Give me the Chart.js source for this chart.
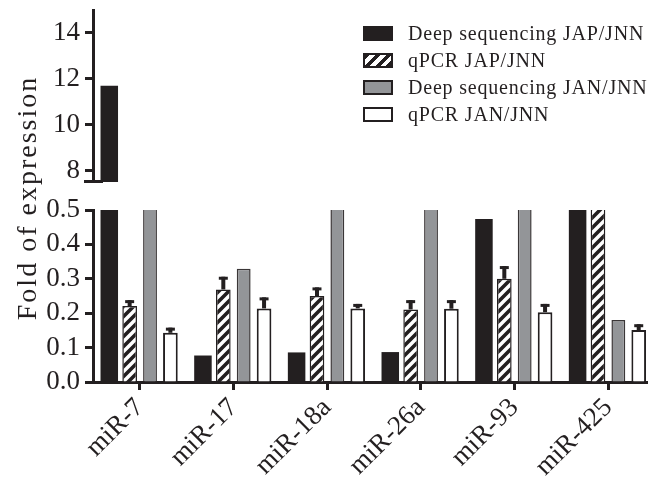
<!DOCTYPE html>
<html>
    <head>
        <title>Fold of expression</title>
        <script src="https://cdn.jsdelivr.net/npm/chart.js"></script>
        <style>
         body {
            margin: 0;
            background: #fff;
            overflow: hidden;
         }
         #wrap {
            position: relative;
            width: 648px;
            height: 490px;
            overflow: hidden;
            font-family: "Liberation Serif", "DejaVu Serif", serif;
            color: #231f20;
         }
         #upper { position: absolute; left: 0; top: 0; }
         #lower { position: absolute; left: 0; top: 190px; }
         #ytitle {
            position: absolute;
            left: -123px;
            top: 182px;
            width: 300px;
            text-align: center;
            font-size: 28px;
            line-height: 32px;
            letter-spacing: 2px;
            transform: rotate(-90deg);
         }
         .leg {
            position: absolute;
            left: 363px;
            height: 26px;
            font-size: 20px;
            letter-spacing: 0.8px;
            line-height: 26px;
            white-space: nowrap;
         }
         .leg i {
            display: inline-block;
            box-sizing: border-box;
            width: 30px;
            height: 15px;
            margin-right: 15px;
            vertical-align: -1px;
            border: 2px solid #231f20;
         }
        </style>
    </head>
    <body>
        <div id="wrap">
            <canvas id="upper" width="655" height="190"></canvas>
            <canvas id="lower" width="655" height="300"></canvas>
            <div id="ytitle">Fold of expression</div>
            <div id="legend"></div>
        </div>
        <script>
        const categories = ["miR-7", "miR-17", "miR-18a", "miR-26a", "miR-93", "miR-425"];
        const seriesNames = [
            "Deep sequencing JAP/JNN", "qPCR JAP/JNN",
            "Deep sequencing JAN/JNN", "qPCR JAN/JNN"
        ];
        // bars above 0.5 are cut off by the break, those values are guesses
        const deepJAP = [11.7, 0.077, 0.086, 0.087, 0.474, 0.9];
        const qpcrJAP = [0.221, 0.269, 0.25, 0.211, 0.30, 0.9];
        const qpcrJAPErr = [0.017, 0.037, 0.025, 0.027, 0.037, 0.05];
        const deepJAN = [1.6, 0.329, 2.1, 1.4, 1.1, 0.18];
        const qpcrJAN = [0.143, 0.214, 0.214, 0.213, 0.203, 0.151];
        const qpcrJANErr = [0.015, 0.032, 0.013, 0.025, 0.024, 0.017];
        const upperTicks = [8, 10, 12, 14];
        const lowerTicks = [0, 0.1, 0.2, 0.3, 0.4, 0.5];

        const ink = "#231f20";
        const grey = "#939598";

        function hatch() {
            const c = document.createElement("canvas");
            c.width = 10; c.height = 10;
            const g = c.getContext("2d");
            g.fillStyle = "#fff";
            g.fillRect(0, 0, 10, 10);
            g.strokeStyle = ink;
            g.lineWidth = 3.6;
            g.beginPath();
            g.moveTo(-5, 5); g.lineTo(5, -5);
            g.moveTo(0, 10); g.lineTo(10, 0);
            g.moveTo(5, 15); g.lineTo(15, 5);
            g.stroke();
            return g.createPattern(c, "repeat");
        }

        function makeDatasets() {
            return [
                { label: seriesNames[0], data: deepJAP, backgroundColor: ink, borderColor: ink,
                  borderWidth: 0, barPercentage: 0.86 },
                { label: seriesNames[1], data: qpcrJAP, errors: qpcrJAPErr, backgroundColor: hatch(),
                  borderColor: ink, borderWidth: 1.5, barPercentage: 0.72 },
                { label: seriesNames[2], data: deepJAN, backgroundColor: grey, borderColor: "#3a3637",
                  borderWidth: 1.5, barPercentage: 0.68 },
                { label: seriesNames[3], data: qpcrJAN, errors: qpcrJANErr, backgroundColor: "#fff",
                  borderColor: ink, borderWidth: 2, barPercentage: 0.72 }
            ];
        }

        const errorBars = {
            id: "errorBars",
            afterDatasetsDraw(chart) {
                const ctx = chart.ctx, y = chart.scales.y, a = chart.chartArea;
                ctx.save();
                ctx.beginPath();
                ctx.rect(a.left, a.top, a.right - a.left, a.bottom - a.top);
                ctx.clip();
                ctx.strokeStyle = ink;
                chart.data.datasets.forEach((ds, di) => {
                    if (!ds.errors) return;
                    chart.getDatasetMeta(di).data.forEach((bar, i) => {
                        const top = y.getPixelForValue(ds.data[i] + ds.errors[i]);
                        ctx.lineWidth = 4;
                        ctx.beginPath();
                        ctx.moveTo(bar.x, bar.y);
                        ctx.lineTo(bar.x, top);
                        ctx.stroke();
                        ctx.lineWidth = 3;
                        ctx.beginPath();
                        ctx.moveTo(bar.x - 4.5, top + 1.5);
                        ctx.lineTo(bar.x + 4.5, top + 1.5);
                        ctx.stroke();
                    });
                });
                ctx.restore();
            }
        };

        const breakMark = {
            id: "breakMark",
            afterDraw(chart) {
                const ctx = chart.ctx, y = chart.scales.y.getPixelForValue(7.5);
                const x = chart.chartArea.left;
                ctx.save();
                ctx.strokeStyle = ink;
                ctx.lineWidth = 3;
                ctx.beginPath();
                ctx.moveTo(x - 9, y - 0.5);
                ctx.lineTo(x + 10, y - 0.5);
                ctx.stroke();
                ctx.restore();
            }
        };

        const tickFont = { family: "'Liberation Serif', serif", size: 27 };

        function yAxis(min, max, ticks, fmt) {
            return {
                min: min, max: max,
                afterFit(s) { s.width = 93; s.paddingTop = 0; s.paddingBottom = 0; },
                afterBuildTicks(s) { s.ticks = ticks.map(v => ({ value: v })); },
                grid: { drawOnChartArea: false, tickLength: 8, tickWidth: 3, tickColor: ink },
                border: { width: 3, color: ink },
                ticks: { font: tickFont, color: ink, padding: 5, autoSkip: false, callback: fmt }
            };
        }

        const base = {
            responsive: false,
            animation: false,
            plugins: { legend: { display: false }, tooltip: { enabled: false } }
        };

        new Chart(document.getElementById("upper"), {
            type: "bar",
            data: { labels: categories, datasets: makeDatasets() },
            options: Object.assign({}, base, {
                categoryPercentage: 0.87,
                layout: { padding: { top: 10, bottom: 8, right: 0 } },
                scales: {
                    x: { display: false },
                    y: yAxis(7.5, 15, upperTicks, v => v)
                }
            }),
            plugins: [breakMark]
        });

        new Chart(document.getElementById("lower"), {
            type: "bar",
            data: { labels: categories, datasets: makeDatasets() },
            options: Object.assign({}, base, {
                categoryPercentage: 0.87,
                layout: { padding: { top: 20, right: 0 } },
                scales: {
                    x: {
                        afterFit(s) { s.height = 108; },
                        grid: { drawOnChartArea: false, offset: false, tickLength: 8, tickWidth: 3, tickColor: ink },
                        border: { width: 3, color: ink },
                        ticks: { font: { family: "'Liberation Serif', serif", size: 27 }, color: ink,
                                 minRotation: 45, maxRotation: 45, autoSkip: false, padding: 2 }
                    },
                    y: yAxis(0, 0.5, lowerTicks, v => Number(v).toFixed(1))
                }
            }),
            plugins: [errorBars]
        });

        // legend
        const boxes = [
            "background:" + ink + ";border-color:" + ink,
            "background:repeating-linear-gradient(135deg," + ink + " 0 3.5px,#fff 3.5px 7.5px)",
            "background:" + grey,
            "background:#fff"
        ];
        const legend = document.getElementById("legend");
        seriesNames.forEach((name, i) => {
            const row = document.createElement("div");
            row.className = "leg";
            row.style.top = (20 + i * 27) + "px";
            row.innerHTML = `<i style="${boxes[i]}"></i>${name}`;
            legend.appendChild(row);
        });
        </script>
    </body>
</html>
